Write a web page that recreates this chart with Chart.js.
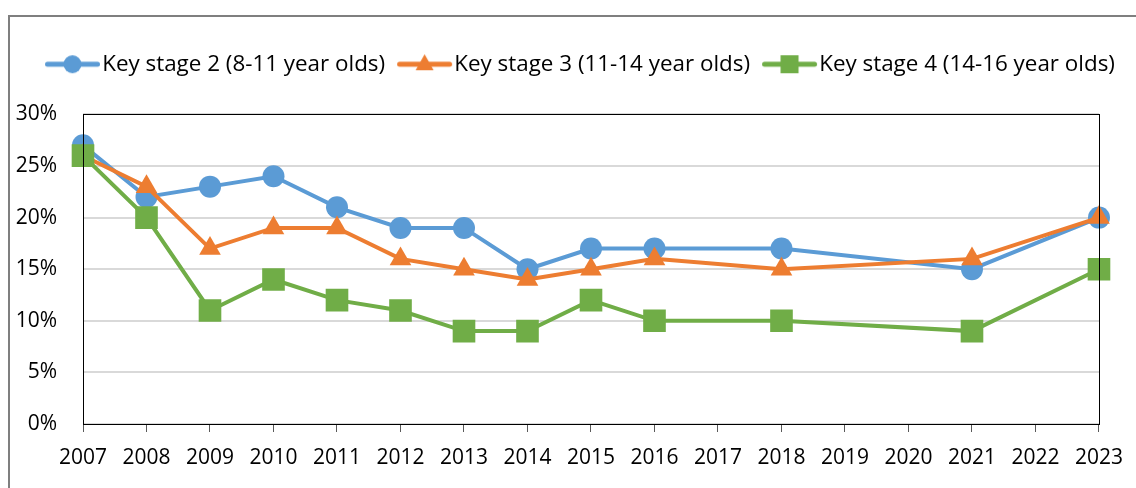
<!DOCTYPE html>
<html>
<head>
<meta charset="utf-8">
<script src="https://cdn.jsdelivr.net/npm/chart.js@4"></script>
<style>
  html, body { margin: 0; padding: 0; background: #fff; }
  #wrap { position: relative; width: 1136px; height: 488px; overflow: hidden; }
  #frame { position: absolute; left: 8px; top: 15px; width: 1200px; height: 600px; border: 2px solid #7f7f7f; box-sizing: border-box; }
  canvas { position: absolute; left: 0; top: 0; }
</style>
</head>
<body>
<div id="wrap">
  <div id="frame"></div>
  <canvas id="chart" width="1136" height="488"></canvas>
</div>
<script>
const years = ["2007", "2008", "2009", "2010", "2011", "2012", "2013", "2014", "2015",
  "2016", "2017", "2018", "2019", "2020", "2021", "2022", "2023"];
const ks2 = [27, 22, 23, 24, 21, 19, 19, 15, 17, 17, null, 17, null, null, 15, null, 20];
const ks3 = [26, 23, 17, 19, 19, 16, 15, 14, 15, 16, null, 15, null, null, 16, null, 20];
const ks4 = [26, 20, 11, 14, 12, 11, 9, 9, 12, 10, null, 10, null, null, 9, null, 15];
const seriesNames = ["Key stage 2 (8-11 year olds)", "Key stage 3 (11-14 year olds)", "Key stage 4 (14-16 year olds)"];
const colours = ["#5B9BD5", "#ED7D31", "#70AD47"];
const markers = ["circle", "triangle", "rect"];
const markerSizes = [11, 12.5, 16];

const FONT = "Open Sans";

// legend symbol: short line with the marker in the middle
function legendIcon(colour, style) {
  const c = document.createElement("canvas");
  c.width = 80; c.height = 24;
  const g = c.getContext("2d");
  g.strokeStyle = colour;
  g.lineWidth = 5;
  g.lineCap = "round";
  g.beginPath();
  g.moveTo(18.5, 12); g.lineTo(68.5, 12);
  g.stroke();
  g.fillStyle = colour;
  const cx = 43.5, cy = 12;
  if (style === "circle") {
    g.beginPath(); g.arc(cx, cy, 9, 0, Math.PI * 2); g.fill();
  } else if (style === "triangle") {
    g.beginPath(); g.moveTo(cx, cy - 10); g.lineTo(cx + 9, cy + 6); g.lineTo(cx - 9, cy + 6); g.closePath(); g.fill();
  } else {
    g.fillRect(cx - 9, cy - 9, 18, 18);
  }
  return c;
}

const plotBorder = {
  id: "plotBorder",
  afterLayout(chart) {
    // legend starts near the left edge like the original, not centred
    chart.legend.left = 33;
    chart.legend.right = 1400;
  },
  afterDraw(chart) {
    const a = chart.chartArea;
    const ctx = chart.ctx;
    ctx.save();
    ctx.strokeStyle = "#000";
    ctx.lineWidth = 1;
    ctx.strokeRect(Math.round(a.left) + 0.5, Math.round(a.top) + 0.5, Math.round(a.right - a.left), Math.round(a.bottom - a.top));
    ctx.restore();
  }
};

const datasets = [ks2, ks3, ks4].map((values, i) => ({
  label: seriesNames[i],
  data: values,
  borderColor: colours[i],
  backgroundColor: colours[i],
  borderWidth: 4,
  pointStyle: markers[i],
  pointRadius: markerSizes[i],
  pointBorderWidth: 0,
  pointHoverRadius: markerSizes[i],
  spanGaps: true,
  tension: 0,
  order: 3 - i
}));

// empty axes used only as spacers
const spacer = (pos, size) => ({
  position: pos,
  display: true,
  grid: { display: false },
  border: { display: false },
  ticks: { display: false },
  afterFit(scale) {
    if (pos === "top") scale.height = size; else scale.width = size;
  }
});

new Chart(document.getElementById("chart"), {
  type: "line",
  data: { labels: years, datasets },
  options: {
    responsive: false,
    animation: false,
    layout: { padding: { top: 39, left: 0, right: 0, bottom: 6 } },
    plugins: {
      tooltip: { enabled: false },
      legend: {
        position: "top",
        align: "start",
        labels: {
          usePointStyle: true,
          pointStyleWidth: 44,
          padding: 14,
          color: "#000",
          font: { family: FONT, size: 22.4 },
          generateLabels(chart) {
            return chart.data.datasets.map((ds, i) => ({
              text: ds.label,
              pointStyle: legendIcon(colours[i], markers[i]),
              fillStyle: colours[i],
              strokeStyle: colours[i],
              lineWidth: 0,
              datasetIndex: i,
              fontColor: "#000"
            }));
          }
        }
      }
    },
    scales: {
      x: {
        offset: false,
        grid: { display: true, drawOnChartArea: false, drawTicks: true, tickLength: 8, color: "#595959" },
        border: { display: false },
        ticks: { color: "#000", font: { family: FONT, size: 21 }, padding: 13, maxRotation: 0, autoSkip: false },
        afterFit(scale) { scale.height = 58; }
      },
      xTop: Object.assign({ type: "category" }, spacer("top", 29)),
      y: {
        min: 0,
        max: 30,
        grid: { color: "#d9d9d9", lineWidth: 2, drawTicks: false },
        border: { display: false },
        ticks: {
          stepSize: 5,
          color: "#000",
          padding: 26,
          font: { family: FONT, size: 21 },
          callback: v => v + "%"
        },
        afterFit(scale) { scale.width = 83; }
      },
      yRight: Object.assign({ type: "linear" }, spacer("right", 37))
    }
  },
  plugins: [plotBorder]
});
</script>
</body>
</html>
